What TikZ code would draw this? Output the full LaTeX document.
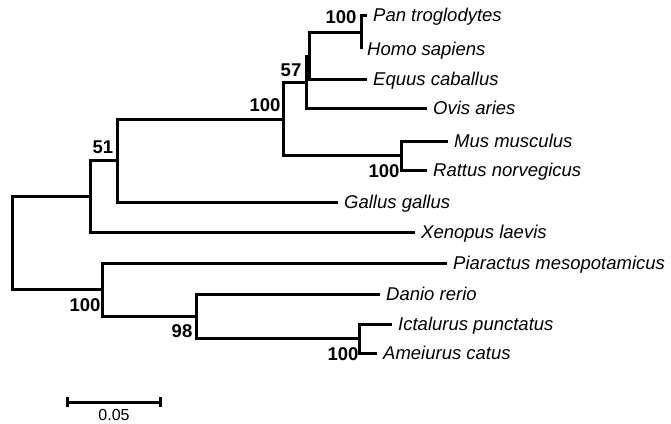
\documentclass[tikz,border=0pt]{standalone}
\usepackage{fontspec}
\setmainfont{Liberation Sans}
\usetikzlibrary{arrows.meta,calc,positioning}

\tikzset{
  leaf/.style={anchor=west,inner xsep=6pt,inner ysep=0pt,text height=12pt,text depth=0pt,
    font=\fontsize{18.5}{20}\selectfont\itshape},
  boot/.style={inner sep=0pt,font=\fontsize{18.5}{20}\selectfont\bfseries},
  branch/.style={line width=3pt}
}

\begin{document}
\begin{tikzpicture}[x=1pt,y=-1pt,>=Stealth]
  \useasboundingbox (0,0) rectangle (671,423);
  % leaves
  \foreach \x/\y/\name/\txt in {367/15/pan/Pan troglodytes,361/49/homo/Homo sapiens,
      367/79/equus/Equus caballus,427/108/ovis/Ovis aries,448/141/mus/Mus musculus,
      427/170/rattus/Rattus norvegicus,338/202/gallus/Gallus gallus,
      415/232/xenopus/Xenopus laevis,447/263/piaractus/Piaractus mesopotamicus,
      380/294/danio/Danio rerio,392/324/ictalurus/Ictalurus punctatus,
      377/353/ameiurus/Ameiurus catus}
    {\node[leaf] (\name) at (\x,\y) {\txt};}
  % inner nodes
  \coordinate (prim) at (361,32);
  \coordinate (equ) at (309,56);
  \coordinate (n57) at (306,82);
  \coordinate (rod) at (401,155.5);
  \coordinate (mam) at (283,119);
  \coordinate (n51) at (117,160);
  \coordinate (tet) at (90,196);
  \coordinate (cat) at (359,338.5);
  \coordinate (n98) at (196,316);
  \coordinate (fish) at (102,289.5);
  \coordinate (root) at (12,242);
  % branches
  \begin{scope}[branch]
    \draw (prim) |- (pan.west);
    \draw (prim) |- (homo.west);
    \draw (equ) |- (prim);
    \draw (equ) |- (equus.west);
    \draw (n57) |- (equ);
    \draw (n57) |- (ovis.west);
    \draw (rod) |- (mus.west);
    \draw (rod) |- (rattus.west);
    \draw (mam) |- (n57);
    \draw (mam) |- (rod);
    \draw (n51) |- (mam);
    \draw (n51) |- (gallus.west);
    \draw (tet) |- (n51);
    \draw (tet) |- (xenopus.west);
    \draw (cat) |- (ictalurus.west);
    \draw (cat) |- (ameiurus.west);
    \draw (n98) |- (danio.west);
    \draw (n98) |- (cat);
    \draw (fish) |- (piaractus.west);
    \draw (fish) |- (n98);
    \draw (root) |- (tet);
    \draw (root) |- (fish);
  \end{scope}
  % bootstrap values
  \node[boot] (bprim) at (341,17) {100};
  \node[boot] (b57) at (291,70) {57};
  \node[boot] (bmam) at (265,105) {100};
  \node[boot] (b51) at (103,147) {51};
  \node[boot] (brod) at (384,171) {100};
  \node[boot] (bfish) at (85,305) {100};
  \node[boot] (b98) at (182,331) {98};
  \node[boot] (bcat) at (343,354) {100};
  % scale bar
  \coordinate (sa) at (66,402);
  \coordinate (sb) at (162,402);
  \draw[line width=3pt,{Bar[width=10pt]}-{Bar[width=10pt]}] (sa) -- (sb);
  \node[font=\fontsize{16}{18}\selectfont] (slab) at ($(sa)!0.5!(sb)+(0,13)$) {0.05};
\end{tikzpicture}
\end{document}
